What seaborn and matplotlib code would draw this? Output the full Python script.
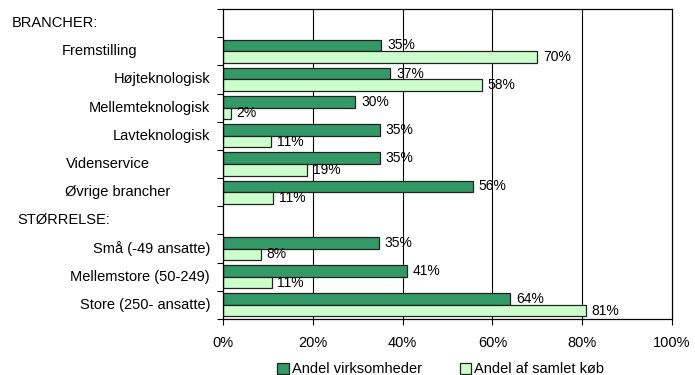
import matplotlib
matplotlib.use('Agg')
import matplotlib.pyplot as plt
import matplotlib.transforms as mtransforms
import pandas as pd
import seaborn as sns

# ---------------------------
# Data
# ---------------------------
rows = ["BRANCHER:", "Fremstilling", "Højteknologisk", "Mellemteknologisk",
        "Lavteknologisk", "Videnservice", "Øvrige brancher", "STØRRELSE:",
        "Små (-49 ansatte)", "Mellemstore (50-249)", "Store (250- ansatte)"]
headers = ["BRANCHER:", "STØRRELSE:"]
categories = [r for r in rows if r not in headers]
andel_virksomheder = [35.3, 37.3, 29.5, 35.0, 35.0, 55.7, 34.7, 41.0, 64.0]
andel_koeb = [70.0, 57.7, 1.8, 10.8, 18.8, 11.2, 8.4, 10.9, 80.8]
series = ["Andel virksomheder", "Andel af samlet køb"]
xticks = [0, 20, 40, 60, 80, 100]

# label placement (pixels from the left of the figure, text edge)
label_left = {"BRANCHER:": 12, "STØRRELSE:": 17}
label_right = {"Fremstilling": 137, "Højteknologisk": 210, "Mellemteknologisk": 210,
               "Lavteknologisk": 210, "Videnservice": 150, "Øvrige brancher": 170,
               "Små (-49 ansatte)": 210, "Mellemstore (50-249)": 210,
               "Store (250- ansatte)": 210}

df = pd.DataFrame({
    "Kategori": categories * 2,
    "Serie": [series[0]] * len(categories) + [series[1]] * len(categories),
    "Andel": andel_virksomheder + andel_koeb,
})

# ---------------------------
# Plot
# ---------------------------
sns.set_style("white")
plt.rcParams['font.family'] = ['Liberation Sans', 'DejaVu Sans']
plt.rcParams['text.color'] = 'black'
plt.rcParams['xtick.color'] = 'black'
plt.rcParams['ytick.color'] = 'black'

W, H = 695, 375
fig = plt.figure(figsize=(W / 100, H / 100), dpi=100)
ax = fig.add_axes([223 / W, 1 - 319 / H, (672 - 223) / W, (319 - 9) / H])

sns.barplot(
    data=df, x="Andel", y="Kategori", hue="Serie", order=rows,
    hue_order=series, orient="h", palette=["#339966", "#CCFFCC"],
    saturation=1, width=0.82, edgecolor="#222222", linewidth=0.9,
    ax=ax, legend=True,
)

for c in ax.containers:
    ax.bar_label(c, fmt="{:.0f}%", padding=4, fontsize=10, color="black")

ax.set_xlim(0, 100)
ax.set_ylim(len(rows) - 0.5, -0.5)
ax.set_xticks(xticks)
ax.set_xticklabels([f"{t}%" for t in xticks], fontsize=10.5)
ax.set_xlabel("")
ax.set_ylabel("")

# category boundaries as tick marks
ax.set_yticks([i - 0.5 for i in range(len(rows) + 1)])
ax.set_yticklabels([])
ax.tick_params(axis="y", length=4, width=0.8, direction="out", left=True)
ax.tick_params(axis="x", length=4, width=0.8, direction="out", bottom=True, pad=8)

for x in xticks[1:-1]:
    ax.axvline(x, color="black", linewidth=0.8, zorder=0)
for s in ax.spines.values():
    s.set_visible(True)
    s.set_color("black")
    s.set_linewidth(0.9)

# category labels
trans = mtransforms.blended_transform_factory(fig.transFigure, ax.transData)
for i, r in enumerate(rows):
    if r in label_left:
        fig.text(label_left[r] / W, i, r, fontsize=10.5, ha="left", va="center",
                 transform=trans)
    else:
        fig.text(label_right[r] / W, i, r, fontsize=10.5, ha="right", va="center",
                 transform=trans)

ax.legend(loc="upper center", bbox_to_anchor=(0.485, -0.14), ncol=2, frameon=False,
          fontsize=10.5, handlelength=0.8, handleheight=0.8, handletextpad=0.2,
          columnspacing=2.6, borderaxespad=0, borderpad=0)

plt.savefig("out.png", dpi=100)
plt.close()
